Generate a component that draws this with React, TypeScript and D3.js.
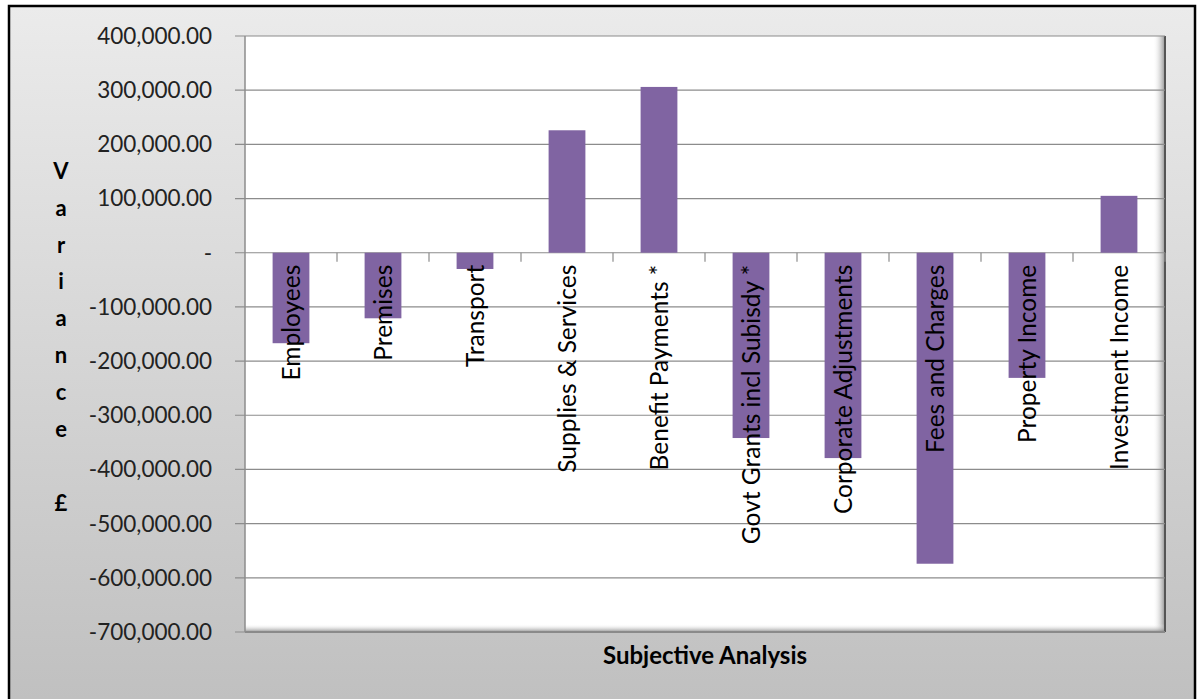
import React from "react";
import * as d3 from "d3";

const categories = [
  "Employees",
  "Premises",
  "Transport",
  "Supplies & Services",
  "Benefit Payments *",
  "Govt Grants incl Subisdy *",
  "Corporate Adjustments",
  "Fees and Charges",
  "Property Income",
  "Investment Income",
];
const variance = [-167000, -121000, -30000, 226000, 306000, -342000, -379000, -574000, -231000, 105000];
const yTicks = [400000, 300000, 200000, 100000, 0, -100000, -200000, -300000, -400000, -500000, -600000, -700000];
const yTitle = ["V", "a", "r", "i", "a", "n", "c", "e", "", "£"];
const xTitle = "Subjective Analysis";

const W = 1202;
const H = 699;
const plot = { left: 245, right: 1165, top: 36, bottom: 632 };
const font = "Lato, 'Open Sans', sans-serif";

const locale = d3.formatLocale({ decimal: ".", thousands: ",", grouping: [3], currency: ["£", ""], minus: "-" });

export default function App() {
  const y = d3.scaleLinear().domain([-700000, 400000]).range([plot.bottom, plot.top]);
  const x = d3.scaleBand().domain(categories).range([plot.left, plot.right]).paddingInner(0.6).paddingOuter(0.3);
  const xb = d3.scaleBand().domain(categories).range([plot.left, plot.right]);
  const f = locale.format(",.2f");
  const fmt = (v: number) => (v === 0 ? "-" : f(v));
  const y0 = y(0);
  return (
    <svg width={W} height={H} style={{ position: "absolute", left: 0, top: 0 }}>
      <defs>
        <linearGradient id="bg" x1="0" y1="0" x2="0" y2="1">
          <stop offset="0" stopColor="#ebebeb" />
          <stop offset="1" stopColor="#bfbfbf" />
        </linearGradient>
        <linearGradient id="shR" x1="0" y1="0" x2="1" y2="0">
          <stop offset="0" stopColor="#ffffff" stopOpacity="0" />
          <stop offset="1" stopColor="#777" stopOpacity="0.8" />
        </linearGradient>
        <linearGradient id="shB" x1="0" y1="0" x2="0" y2="1">
          <stop offset="0" stopColor="#ffffff" stopOpacity="0" />
          <stop offset="1" stopColor="#777" stopOpacity="0.8" />
        </linearGradient>
      </defs>
      <rect x={0} y={0} width={W} height={H} fill="#fff" />
      <rect x={9} y={6} width={1186} height={H + 10} fill="url(#bg)" stroke="#000" strokeWidth={2.5} />
      {/* plot area */}
      <rect x={plot.left} y={plot.top} width={plot.right - plot.left} height={plot.bottom - plot.top} fill="#fff" />
      <rect x={plot.right - 12} y={plot.top} width={12} height={plot.bottom - plot.top} fill="url(#shR)" />
      <rect x={plot.left} y={plot.bottom - 8} width={plot.right - plot.left} height={8} fill="url(#shB)" />
      <line x1={plot.right} x2={plot.right} y1={plot.top} y2={plot.bottom} stroke="#555" strokeWidth={2} />
      <line x1={plot.left} x2={plot.right} y1={plot.bottom} y2={plot.bottom} stroke="#888" strokeWidth={2} />
      {/* gridlines */}
      {yTicks.map((t) => (
        <line key={t} x1={plot.left - 10} x2={plot.right} y1={y(t)} y2={y(t)} stroke="#8c8c8c" strokeWidth={1.2} />
      ))}
      <line x1={plot.left} x2={plot.left} y1={plot.top} y2={plot.bottom} stroke="#8c8c8c" strokeWidth={1.5} />
      {/* bars */}
      {categories.map((c, i) => {
        const v = variance[i];
        return (
          <rect key={c} x={x(c)} width={x.bandwidth()} y={Math.min(y(v), y0)} height={Math.abs(y(v) - y0)} fill="#8064a2" />
        );
      })}
      {/* category ticks */}
      {categories.map((c) => (
        <line key={c} x1={(xb(c) as number) + xb.bandwidth()} x2={(xb(c) as number) + xb.bandwidth()} y1={y0} y2={y0 + 9} stroke="#8c8c8c" strokeWidth={1.2} />
      ))}
      {/* y labels */}
      {yTicks.map((t) => (
        <text key={t} x={212} y={y(t)} dy="0.35em" textAnchor="end" fontFamily={font} fontSize={22.5} fill="#222">
          {fmt(t)}
        </text>
      ))}
      {/* category labels */}
      {categories.map((c) => {
        const cx = (xb(c) as number) + xb.bandwidth() / 2;
        return (
          <text key={c} transform={`translate(${cx},${y0 + 12}) rotate(-90)`} textAnchor="end" dy="0.35em" fontFamily={font} fontSize={24.5} fill="#000">
            {c}
          </text>
        );
      })}
      {/* y title */}
      {yTitle.map((ch, i) => (
        <text key={i} x={61} y={171 + i * 36.9} dy="0.35em" textAnchor="middle" fontFamily={font} fontWeight="bold" fontSize={22} fill="#000">
          {ch}
        </text>
      ))}
      <text x={705} y={656} dy="0.35em" textAnchor="middle" fontFamily={font} fontWeight="bold" fontSize={24} fill="#000">
        {xTitle}
      </text>
    </svg>
  );
}
